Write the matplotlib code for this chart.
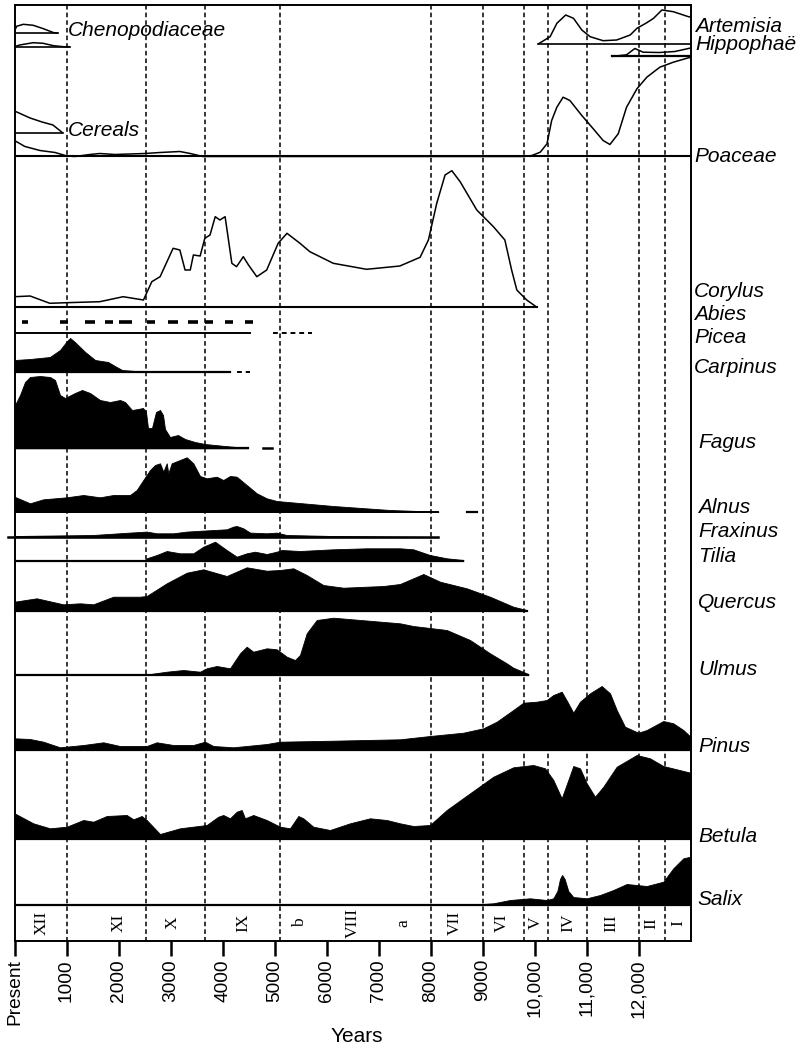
import numpy as np
import matplotlib.pyplot as plt

plt.rcParams['font.family'] = ['Liberation Sans', 'DejaVu Sans']

# ---- pollen curves: years before present, relative values
cheno_yr = [0, 40, 170, 360, 550, 750, 840]
cheno_val = [2, 7, 9, 8, 4.7, 0.7, 0]
cheno2_yr = [0, 100, 360, 550, 750, 940, 1070]
cheno2_val = [0, 1.7, 4, 3.4, 1, 0, 0]

cereal_yr = [0, 300, 530, 740, 930]
cereal_val = [22, 15, 11, 8, 0]

artemisia_yr = [10070, 10300, 10430, 10600, 10750, 10910, 11070, 11320, 11580,
                11840, 11970, 12160, 12290, 12450, 12670, 12960, 13000]
artemisia_val = [0, 7.3, 20.7, 29, 25.7, 14, 7.3, 3.3, 4, 9, 15.7, 21.3, 25.7,
                 34, 32.3, 27.3, 27]

hippophae_yr = [11490, 11770, 11930, 12090, 12400, 12700, 12960, 13000]
hippophae_val = [0, 1.7, 8, 4.3, 4, 5, 8, 8.5]

poaceae_yr = [0, 200, 490, 780, 1010, 1160, 1450, 1640, 1930, 2220, 2510, 2800,
              3180, 3380, 3620, 9800, 9950, 10110, 10240, 10330, 10430, 10550,
              10680, 10910, 11130, 11320, 11450, 11610, 11770, 11970, 12160,
              12410, 12670, 12960, 13000]
poaceae_val = [16, 10, 6, 4, 0.5, 0, 2, 3, 2, 2.5, 3, 4, 5, 3, 0, 0, 1, 4.3,
               12.7, 36, 49.3, 59.3, 56, 41, 27.7, 16, 12, 22.7, 49.3, 67.7,
               79.3, 89.3, 94.3, 98.7, 99]

corylus_yr = [0, 300, 680, 1000, 1640, 2090, 2480, 2640, 2800, 3050, 3180,
              3280, 3380, 3440, 3570, 3660, 3760, 3860, 3950, 4050, 4180, 4270,
              4400, 4500, 4660, 4850, 5070, 5240, 5490, 5680, 6130, 6770, 7410,
              7800, 7960, 8120, 8280, 8410, 8570, 8890, 9210, 9430, 9560, 9660,
              9850, 10040]
corylus_val = [10.3, 11, 3.7, 4.3, 5.3, 10.3, 7, 25.3, 30.3, 58.7, 57, 37, 37,
               52, 51, 68.7, 72, 90.3, 87, 90.3, 43.7, 40.3, 50.3, 42, 30.3, 37,
               63.7, 73.7, 63.7, 55.3, 43.7, 37.7, 41, 49.7, 67, 103.7, 132,
               136.3, 125.3, 97, 80.3, 67, 37, 17, 7, 0]

abies_start = [140, 875, 1360, 1740, 2000, 2540, 2960, 3340, 3660, 4050, 4430]
abies_end = [265, 1035, 1550, 1900, 2250, 2700, 3150, 3535, 3820, 4210, 4590]

carpinus_yr = [0, 300, 680, 875, 1010, 1070, 1160, 1360, 1550, 1800, 1930,
               2070, 2510]
carpinus_val = [11.7, 12.7, 14.7, 21.7, 30.7, 33.7, 29.7, 19.7, 11.7, 9.7, 5.7,
                1.7, 0]

fagus_yr = [0, 106, 202, 298, 490, 683, 779, 875, 971, 1163, 1298, 1452, 1644,
            1837, 2029, 2125, 2260, 2375, 2471, 2529, 2567, 2644, 2721, 2798,
            2856, 2894, 2990, 3144, 3279, 3471, 3663, 4048, 4490]
fagus_val = [42.3, 53.3, 66.3, 71.3, 72.3, 71.3, 68.3, 53.3, 50.3, 55.3, 58.3,
             55.3, 48.3, 46.3, 48.3, 46.3, 38.3, 39.3, 40.3, 36.3, 20.3, 20.3,
             36.3, 38.3, 33.3, 19.3, 11.3, 13.3, 9.3, 6.3, 4.3, 2.3, 0.3]

alnus_yr = [0, 298, 554, 1004, 1323, 1644, 1900, 2221, 2350, 2477, 2606, 2702,
            2798, 2862, 2927, 2958, 3023, 3215, 3312, 3438, 3567, 3696, 3888,
            4015, 4144, 4273, 4465, 4658, 4850, 5042, 6131, 7221, 8150]
alnus_val = [15.3, 8.7, 12.7, 14.7, 17, 14.7, 17, 17, 22, 32, 42, 47, 48.7,
             40.3, 48.7, 38.7, 48.7, 52.7, 54.7, 48.7, 36, 33.7, 35.3, 32, 36,
             35.3, 27, 18.7, 13.7, 11, 6, 2, 0.3]

fraxinus_yr = [0, 1510, 2221, 2542, 2735, 3054, 3312, 3631, 4081, 4208, 4273,
               4400, 4529, 4850, 5042, 5235, 6131, 7413, 8150]
fraxinus_val = [1.3, 2.3, 4.7, 5.7, 4, 4, 5.7, 6.7, 8, 10.7, 11.3, 9, 4.7, 4,
                4.7, 2.3, 1.3, 0.7, 0.3]

tilia_yr = [2500, 2542, 2735, 2927, 3183, 3438, 3631, 3856, 4081, 4273, 4465,
            4625, 4850, 5042, 5138, 5490, 6131, 6773, 7413, 7669, 7990, 8312,
            8631]
tilia_val = [0, 2.4, 5.7, 9.7, 7.4, 7.4, 14, 19, 10.7, 4, 7.4, 9, 6.7, 9, 10.7,
             9.7, 11.4, 12.4, 12.4, 11.4, 5.7, 2.4, 0.7]

quercus_yr = [0, 427, 938, 1260, 1515, 1900, 2413, 2542, 2927, 3312, 3631, 4081,
              4465, 4850, 5106, 5362, 5619, 5938, 6323, 7092, 7413, 7862, 8183,
              8696, 9144, 9592, 9850]
quercus_val = [9.3, 12.7, 6.7, 7.7, 6.7, 14.3, 14.3, 15, 27.7, 38.3, 41.7, 35,
               43.7, 40.3, 41, 42.7, 36, 26, 23.3, 25, 27, 37, 29.3, 22.7, 14.3,
               4.3, 1]

ulmus_yr = [0, 2477, 2927, 3246, 3567, 3696, 3888, 4144, 4337, 4465, 4592, 4850,
            5042, 5235, 5394, 5490, 5619, 5812, 6131, 7413, 7669, 8312, 8760,
            9144, 9465, 9592, 9880]
ulmus_val = [0, 0, 3.3, 5, 3.3, 6.7, 9, 6.7, 21.7, 28.3, 23.3, 26.7, 25.7, 18.3,
             15, 20, 41.7, 55, 57.3, 51.7, 49, 45, 35, 21.7, 11.7, 7.3, 1]

pinus_yr = [0, 298, 554, 875, 1323, 1708, 2029, 2542, 2735, 3054, 3438, 3663,
            3823, 4208, 4850, 5106, 6131, 7413, 7990, 8631, 9015, 9273, 9592,
            9785, 10042, 10235, 10362, 10523, 10650, 10746, 10875, 11067, 11292,
            11452, 11581, 11740, 11996, 12158, 12477, 12669, 12862, 13000]
pinus_val = [11.7, 11, 8.3, 2.7, 5, 7.7, 4, 4, 7.7, 5, 5, 8.3, 4, 2.7, 6, 8.3,
             9.3, 10.7, 14, 17.3, 21.7, 28.3, 40, 47.3, 48.3, 50, 55, 58.3,
             46.7, 37.3, 48.3, 56.7, 64, 56.7, 40, 23.3, 17.3, 20, 29, 26.7, 20,
             13.3]

betula_yr = [0, 361, 683, 1004, 1323, 1515, 1773, 2158, 2285, 2446, 2542, 2798,
             3183, 3696, 3919, 4015, 4144, 4273, 4369, 4433, 4592, 4850, 5106,
             5298, 5458, 5554, 5746, 6067, 6452, 6837, 7158, 7413, 7669, 7990,
             8312, 8760, 9208, 9592, 9977, 10202, 10362, 10523, 10650, 10746,
             10875, 11004, 11163, 11323, 11581, 11965, 12221, 12477, 13000]
betula_val = [25.7, 15.7, 10.7, 12.3, 19, 17.3, 23, 24, 19.7, 23, 19, 5, 10.7,
              14, 22.3, 24, 20.7, 27.3, 29, 20.7, 24, 19, 12.3, 10.7, 23, 20.7,
              12.3, 9, 15.7, 20.7, 19, 15.7, 13, 14, 29, 45.7, 62.3, 71.7, 74,
              70.7, 59, 40.7, 59, 73, 70.7, 55.7, 42.3, 52.3, 72.3, 84, 80.7, 73,
              66.3]

salix_yr = [8700, 9208, 9529, 9913, 10235, 10362, 10440, 10490, 10530, 10580,
            10650, 10746, 11004, 11260, 11516, 11773, 12158, 12477, 12669,
            12862, 13000]
salix_val = [0, 1.7, 5, 6.7, 5, 6.7, 14, 26, 30, 26, 14, 8, 6.7, 10, 15, 21, 19,
             23.3, 36.7, 46.7, 48.3]

# ---- zones and axis
zone_bounds = [1000, 2520, 3660, 5100, 8000, 9000, 9800, 10250, 11000, 12000, 12500]
zone_names = ['XII', 'XI', 'X', 'IX', 'b', 'VIII', 'a', 'VII', 'VI', 'V', 'IV',
              'III', 'II', 'I']
zone_mid = [520, 2000, 3050, 4400, 5500, 6500, 7470, 8470, 9370, 10030, 10650,
            11480, 12250, 12760]
tick_years = list(range(0, 13000, 1000))
tick_labels = ['Present'] + [f'{t:,}' if t >= 10000 else str(t) for t in tick_years[1:]]

W, H = 801, 1045
fig = plt.figure(figsize=(W / 100, H / 100), dpi=100)
ax = fig.add_axes([14.5 / W, (H - 941) / H, 676 / W, 936 / H])
ax.set_xlim(0, 13000)
ax.set_ylim(941, 5)
for s in ax.spines.values():
    s.set_linewidth(1.4)
ax.set_yticks([])
ax.set_xticks(tick_years)
ax.set_xticklabels(tick_labels, rotation=90, fontsize=13.8)
ax.tick_params(axis='x', direction='out', length=11, width=1.8, pad=2)

K = 'black'
LW = 1.2


def outline(yr, val, base, lw=1.1):
    ax.plot(yr, base - np.asarray(val), color=K, lw=lw, solid_capstyle='butt')


def filled(yr, val, base):
    ax.fill_between(yr, base - np.asarray(val), base, color=K, lw=0.6, edgecolor=K)


def baseline(base, x0, x1, ls='-', lw=LW, **kw):
    ax.plot([x0, x1], [base, base], color=K, lw=lw, ls=ls, **kw)


# herbs (outlines)
outline(cheno_yr, cheno_val, 33.3)
baseline(33.3, 0, 840)
outline(cheno2_yr, cheno2_val, 46.7)
baseline(46.7, 0, 1070)
outline(artemisia_yr, artemisia_val, 44)
baseline(44, 10070, 13000)
outline(hippophae_yr, hippophae_val, 56.5)
baseline(56.5, 11490, 13000, lw=1.6)
outline(cereal_yr, cereal_val, 133)
baseline(133, 0, 930)
outline(poaceae_yr, poaceae_val, 156.5)
baseline(156.5, 0, 13000, lw=1.5)

# Corylus outline
outline(corylus_yr, corylus_val, 307)
baseline(307, 0, 10040, lw=1.5)

# Abies occurrences
ax.hlines([322.5] * len(abies_start), abies_start, abies_end, color=K, lw=2.6)

# Picea
baseline(333.3, 0, 4530, lw=1.4)
baseline(333.3, 4970, 5720, ls=(0, (2.5, 2)), lw=1.4)

# filled taxa
filled(carpinus_yr, carpinus_val, 371.7)
baseline(371.7, 0, 4140, lw=1.6)
baseline(371.7, 4280, 4530, ls=(0, (2.5, 2)), lw=1.4)

filled(fagus_yr, fagus_val, 448.3)
baseline(448.3, 0, 4490, lw=1.6)
baseline(448.3, 4780, 4950, lw=1.8)

filled(alnus_yr, alnus_val, 512)
baseline(512, 0, 8150, lw=1.4)
baseline(512, 8700, 8890, lw=1.6)

filled(fraxinus_yr, fraxinus_val, 537.3)
baseline(537.3, -120, 8150, lw=1.8, clip_on=False)

filled(tilia_yr, tilia_val, 560.7)
baseline(560.7, 0, 8631, lw=1.6)

filled(quercus_yr, quercus_val, 611)
baseline(611, 0, 9850, lw=1.6)

filled(ulmus_yr, ulmus_val, 675)
baseline(675, 0, 9880, lw=1.6)

filled(pinus_yr, pinus_val, 750)
baseline(750, 0, 13000, lw=1.6)

filled(betula_yr, betula_val, 839)
baseline(839, 0, 13000, lw=1.6)

filled(salix_yr, salix_val, 905)
baseline(905, 0, 13000, lw=1.6)

# zone boundaries
ax.vlines(zone_bounds, 5, 941, colors=K, lw=1.1, linestyles=(0, (3, 2)))

# zone names
for name, yr in zip(zone_names, zone_mid):
    ax.text(yr, 923, name, rotation=90, ha='center', va='center',
            family='Liberation Serif', fontsize=12.5)

# taxon labels (pixel positions)
labels = [
    ('Chenopodiaceae', 68, 36), ('Cereals', 68, 136),
    ('Artemisia', 695, 32), ('Hippophaë', 695, 50), ('Poaceae', 694, 162),
    ('Corylus', 694, 297), ('Abies', 694, 320), ('Picea', 694, 343),
    ('Carpinus', 694, 373), ('Fagus', 698, 448), ('Alnus', 698, 513),
    ('Fraxinus', 698, 537), ('Tilia', 698, 562), ('Quercus', 698, 608),
    ('Ulmus', 698, 675), ('Pinus', 698, 752), ('Betula', 698, 842),
    ('Salix', 697, 905),
]
for name, x, y in labels:
    fig.text(x / W, 1 - y / H, name, style='italic', fontsize=15,
             ha='left', va='baseline')

fig.text(357 / W, 1 - 1042 / H, 'Years', fontsize=15, ha='center', va='baseline')

fig.savefig('out.png', dpi=100, facecolor='white')
